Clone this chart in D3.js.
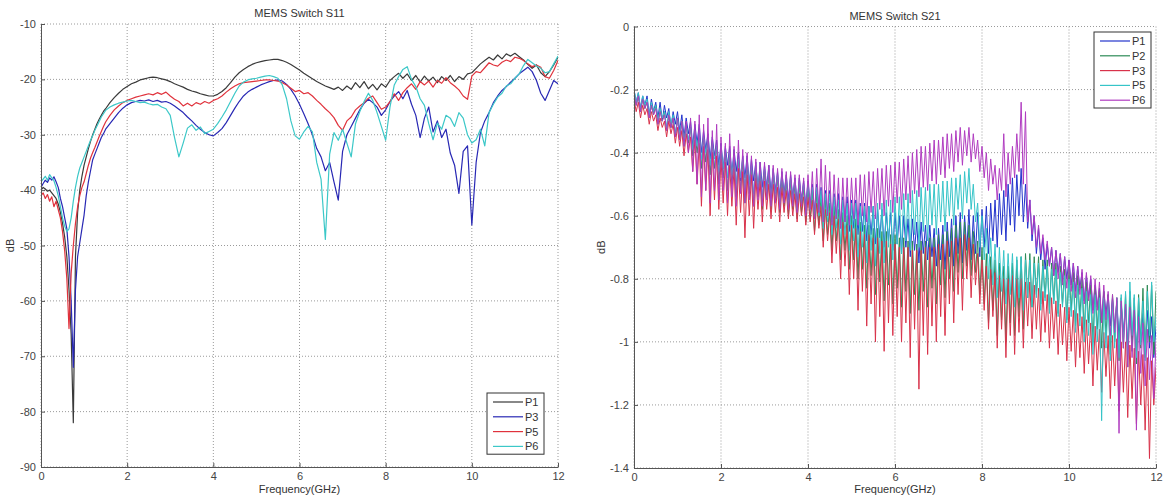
<!DOCTYPE html>
<html>
<head>
<meta charset="utf-8">
<script src="https://cdn.jsdelivr.net/npm/d3@7"></script>
<style>
body { margin: 0; background: #fff; }
text { font-family: "Liberation Sans", Arial, sans-serif; }
</style>
</head>
<body>
<script>
// sweep grids (GHz)
var freqS11 = d3.range(0, 1.5, 0.05).concat(d3.range(1.5, 12.001, 0.1));
var freqS21 = d3.range(0, 12.001, 0.05);

var xTicks = [0, 2, 4, 6, 8, 10, 12];
var yTicksS11 = [-10, -20, -30, -40, -50, -60, -70, -80, -90];
var yTicksS21 = [0, -0.2, -0.4, -0.6, -0.8, -1, -1.2, -1.4];

var namesS11 = ['P1', 'P3', 'P5', 'P6'];
var namesS21 = ['P1', 'P2', 'P3', 'P5', 'P6'];

// S11 (dB), first 30 points every 0.05 GHz up to 1.45, then every 0.1 GHz
var s11P1 = [-40, -39.5, -39.8, -40.2, -40, -40.5, -41, -41.5, -42.5, -44, -46, -48.5, -52, -58, -66, -82, -52, -44, -40, -37.5, -35.5, -34, -32.5, -31.2, -30, -29, -28, -27.2, -26.5, -25.8,
  -25.3, -24.2, -23.3, -22.5, -21.8,
  -21.3, -20.8, -20.5, -20.1, -19.9, -19.7, -19.6, -19.7, -19.9, -20.1,
  -20.4, -20.8, -21.1, -21.4, -21.8, -22.1, -22.3, -22.6, -22.8, -23.0,
  -23.0, -22.7, -22.2, -21.5, -20.6, -19.6, -18.8, -18.2, -17.7, -17.3,
  -17.0, -16.8, -16.6, -16.5, -16.4, -16.4, -16.6, -16.9, -17.3, -17.8,
  -18.3, -18.9, -19.4, -19.9, -20.4, -20.8, -21.2, -21.5, -21.8, -21.4,
  -22.0, -21.2, -21.8, -20.6, -21.5, -20.4, -21.7, -20.9, -21.9, -20.8,
  -21.4, -20.2, -19.5, -18.9, -19.8, -19.0, -20.2, -19.3, -20.5, -19.4,
  -20.3, -19.6, -20.6, -19.5, -20.2, -19.3, -20.4, -19.5, -20.0, -19.0,
  -18.8, -18.0, -17.2, -16.6, -16.0, -16.5, -15.6, -16.3, -15.4, -15.8,
  -15.3, -15.9, -16.5, -17.3, -18.0, -17.4, -18.8, -19.5, -18.6, -17.4,
  -16.0];
var s11P3 = [-39.5, -38.8, -38.2, -38.6, -37.8, -38.2, -37.6, -38.5, -39.5, -41.5, -43, -45, -47, -52, -60, -72, -58, -52, -49.5, -47, -44.5, -41, -38.5, -36.5, -34.5, -33.5, -32.5, -31.5, -30.5, -29.8,
  -29, -28, -27, -26, -25.2,
  -24.6, -24.2, -24.0, -23.8, -23.9, -23.7, -24.0, -23.8, -24.1, -24.0,
  -24.3, -24.8, -25.4, -26.0, -26.8, -27.5, -28.3, -29.0, -29.6, -30.0,
  -30.2, -29.6, -28.9, -27.8, -26.5, -25.2, -24.0, -23.0, -22.3, -21.8,
  -21.4, -21.0, -20.7, -20.4, -20.2, -20.1, -20.3, -20.9, -21.8, -23.0,
  -24.5, -26.2, -28.0, -30.0, -32.5, -34.0, -36.5, -35.0, -38.5, -41.8,
  -33.0, -30.0, -28.5, -27.0, -25.5, -24.3, -23.6, -24.2, -25.0, -26.5,
  -25.5, -24.0, -23.0, -22.2, -23.5, -22.0, -24.5, -26.5, -30.5, -27.0,
  -25.0, -29.5, -27.5, -30.5, -29.0, -33.3, -35.5, -40.6, -33.0, -32.0,
  -46.3, -35.0, -29.6, -27.5, -26.0, -24.2, -23.0, -22.0, -21.3, -20.5,
  -19.8, -19.0, -18.4, -17.8, -18.6, -20.2, -22.5, -23.8, -22.0, -20.2,
  -20.8];
var s11P5 = [-41, -40.5, -41.5, -40.8, -42, -41.2, -43, -42, -43.5, -45, -47.5, -51, -56, -65, -55, -50, -46, -43, -41, -39.5, -38.5, -37, -35.5, -34.2, -33.2, -32.3, -31.3, -30.3, -29.4, -28.5,
  -27.7, -26.5, -25.5, -24.8, -24.2,
  -23.8, -23.5, -23.2, -23.0, -22.8, -22.6, -22.8, -22.4, -22.7, -22.3,
  -23.0, -23.6, -24.0, -24.8, -24.3, -24.8, -24.2, -24.5, -24.0, -24.3,
  -23.8, -23.5, -23.0, -22.3, -21.7, -21.2, -20.8, -20.6, -20.5, -20.4,
  -20.3, -20.2, -20.1, -20.1, -20.2, -20.3, -20.6, -21.0, -21.6, -22.2,
  -22.0, -22.6, -22.4, -23.0, -23.8, -24.5, -25.3, -26.0, -26.9, -28.3,
  -29.2, -27.5, -26.8, -25.5, -24.8, -24.2, -23.4, -23.0, -24.2, -25.4,
  -25.0, -24.0, -22.6, -23.8, -22.4, -21.5, -20.8, -21.8, -20.4, -21.0,
  -20.3, -21.4, -20.2, -20.7, -19.7, -20.6, -21.2, -21.9, -23.0, -23.6,
  -19.4, -18.6, -18.8, -17.9, -17.0, -17.4, -17.6, -16.9, -16.5, -16.8,
  -16.0, -16.2, -16.6, -17.2, -17.7, -17.4, -17.8, -19.5, -19.8, -18.4,
  -16.6];
var s11P6 = [-38.5, -38, -37.5, -38.2, -37.2, -37.8, -38.3, -39.5, -41, -43, -45, -46.5, -47.5, -47, -45, -42, -39.5, -37.5, -36, -35, -34, -33, -32, -31, -30.2, -29.2, -28.4, -27.6, -26.8, -26.2,
  -25.6, -25.0, -24.6, -24.3, -24.1,
  -23.9, -23.8, -24.0, -24.2, -24.1, -24.4, -24.6, -24.5, -25.0, -25.3,
  -26.5, -30.5, -34.0, -31.5, -28.8, -28.2, -29.2, -28.6, -29.8, -29.4,
  -29.0, -28.0, -26.8, -25.5, -24.0, -22.5, -21.2, -20.5, -20.1, -19.9,
  -19.8, -19.6, -19.4, -19.3, -19.5, -19.8, -21.0, -23.5, -27.5, -30.2,
  -30.8, -29.5, -28.5, -29.5, -35.0, -38.0, -48.9, -33.5, -29.6, -31.0,
  -29.0, -31.5, -34.0, -28.0, -25.8, -24.0, -22.5, -23.8, -26.0, -28.5,
  -31.0, -25.0, -21.0, -19.5, -18.2, -17.7, -20.0, -21.3, -23.5, -24.7,
  -28.0, -30.9, -27.9, -29.0, -26.5, -27.0, -28.5, -26.0, -27.0, -30.0,
  -31.5, -30.9, -29.0, -32.0, -26.0, -24.5, -23.2, -22.5, -21.2, -20.8,
  -19.8, -19.0, -17.5, -16.4, -17.0, -17.6, -18.0, -18.8, -18.6, -17.2,
  -15.8];

// S21 (dB), every 0.05 GHz, one row per GHz
var s21P1 = [-0.20, -0.24, -0.21, -0.26, -0.22, -0.25, -0.22, -0.28, -0.23, -0.27, -0.24, -0.29, -0.24, -0.30, -0.25, -0.29, -0.26, -0.32, -0.27, -0.31,
  -0.27, -0.33, -0.28, -0.35, -0.29, -0.34, -0.30, -0.38, -0.31, -0.37, -0.31, -0.40, -0.33, -0.39, -0.34, -0.42, -0.35, -0.41, -0.36, -0.44,
  -0.37, -0.45, -0.38, -0.44, -0.38, -0.47, -0.39, -0.46, -0.40, -0.49, -0.41, -0.48, -0.41, -0.50, -0.42, -0.49, -0.43, -0.52, -0.43, -0.51,
  -0.44, -0.51, -0.44, -0.53, -0.45, -0.52, -0.46, -0.54, -0.46, -0.53, -0.47, -0.55, -0.47, -0.54, -0.48, -0.56, -0.48, -0.55, -0.49, -0.57,
  -0.49, -0.57, -0.50, -0.59, -0.50, -0.58, -0.51, -0.61, -0.52, -0.60, -0.52, -0.62, -0.53, -0.61, -0.53, -0.64, -0.54, -0.62, -0.54, -0.65,
  -0.55, -0.64, -0.55, -0.66, -0.56, -0.65, -0.56, -0.68, -0.57, -0.66, -0.57, -0.69, -0.58, -0.67, -0.58, -0.70, -0.59, -0.68, -0.59, -0.71,
  -0.59, -0.69, -0.60, -0.72, -0.60, -0.70, -0.61, -0.73, -0.61, -0.71, -0.62, -0.75, -0.62, -0.72, -0.63, -0.74, -0.63, -0.73, -0.64, -0.76,
  -0.64, -0.74, -0.63, -0.77, -0.62, -0.73, -0.61, -0.76, -0.60, -0.72, -0.59, -0.75, -0.60, -0.71, -0.58, -0.74, -0.60, -0.72, -0.59, -0.73,
  -0.58, -0.70, -0.57, -0.72, -0.56, -0.68, -0.55, -0.70, -0.53, -0.66, -0.52, -0.68, -0.50, -0.63, -0.48, -0.65, -0.47, -0.60, -0.45, -0.62,
  -0.50, -0.64, -0.55, -0.68, -0.60, -0.72, -0.64, -0.74, -0.67, -0.77, -0.69, -0.76, -0.70, -0.79, -0.71, -0.78, -0.72, -0.81, -0.73, -0.80,
  -0.74, -0.82, -0.75, -0.84, -0.76, -0.83, -0.78, -0.87, -0.79, -0.86, -0.80, -0.90, -0.82, -0.89, -0.83, -0.93, -0.84, -0.91, -0.85, -0.95,
  -0.86, -0.96, -0.87, -0.99, -0.88, -0.97, -0.88, -1.01, -0.89, -0.99, -0.90, -1.03, -0.90, -1.00, -0.91, -1.04, -0.90, -1.02, -0.92, -1.05,
  -0.95];
var s21P2 = [-0.21, -0.25, -0.22, -0.27, -0.23, -0.26, -0.24, -0.29, -0.25, -0.28, -0.25, -0.31, -0.26, -0.30, -0.27, -0.33, -0.28, -0.32, -0.29, -0.35,
  -0.29, -0.36, -0.30, -0.38, -0.31, -0.37, -0.32, -0.41, -0.33, -0.40, -0.34, -0.45, -0.35, -0.43, -0.36, -0.47, -0.37, -0.45, -0.38, -0.50,
  -0.39, -0.48, -0.40, -0.52, -0.41, -0.50, -0.42, -0.54, -0.42, -0.52, -0.43, -0.56, -0.44, -0.53, -0.45, -0.57, -0.45, -0.54, -0.46, -0.58,
  -0.46, -0.55, -0.47, -0.58, -0.47, -0.56, -0.48, -0.59, -0.48, -0.57, -0.49, -0.60, -0.49, -0.58, -0.50, -0.61, -0.50, -0.59, -0.51, -0.62,
  -0.51, -0.61, -0.52, -0.65, -0.53, -0.63, -0.54, -0.68, -0.55, -0.66, -0.56, -0.71, -0.57, -0.68, -0.58, -0.74, -0.59, -0.71, -0.60, -0.77,
  -0.60, -0.74, -0.61, -0.80, -0.62, -0.77, -0.63, -0.83, -0.63, -0.79, -0.64, -0.85, -0.64, -0.81, -0.65, -0.87, -0.65, -0.82, -0.66, -0.88,
  -0.66, -0.83, -0.67, -0.89, -0.67, -0.84, -0.68, -0.91, -0.68, -0.85, -0.69, -0.90, -0.68, -0.84, -0.68, -0.89, -0.67, -0.83, -0.67, -0.88,
  -0.66, -0.82, -0.66, -0.86, -0.65, -0.80, -0.64, -0.84, -0.63, -0.78, -0.62, -0.80, -0.62, -0.76, -0.63, -0.79, -0.65, -0.78, -0.68, -0.85,
  -0.70, -0.88, -0.72, -0.94, -0.73, -0.90, -0.74, -0.98, -0.75, -0.93, -0.76, -1.00, -0.76, -0.94, -0.75, -0.98, -0.74, -0.92, -0.73, -0.96,
  -0.72, -0.86, -0.72, -0.89, -0.73, -0.85, -0.73, -0.88, -0.74, -0.86, -0.74, -0.90, -0.75, -0.87, -0.75, -0.91, -0.76, -0.88, -0.77, -0.93,
  -0.77, -0.90, -0.78, -0.95, -0.79, -0.92, -0.80, -0.97, -0.81, -0.94, -0.82, -1.00, -0.83, -0.96, -0.84, -1.02, -0.84, -0.98, -0.85, -1.04,
  -0.85, -1.00, -0.86, -1.06, -0.86, -1.02, -0.85, -1.08, -0.84, -1.03, -0.86, -1.07, -0.85, -1.02, -0.83, -1.05, -0.82, -1.00, -0.82, -1.04,
  -0.84];
var s21P3 = [-0.23, -0.27, -0.24, -0.29, -0.25, -0.28, -0.26, -0.31, -0.27, -0.30, -0.28, -0.33, -0.29, -0.32, -0.30, -0.35, -0.30, -0.34, -0.31, -0.37,
  -0.32, -0.38, -0.33, -0.41, -0.34, -0.40, -0.35, -0.46, -0.36, -0.50, -0.37, -0.57, -0.38, -0.52, -0.39, -0.60, -0.40, -0.55, -0.41, -0.58,
  -0.42, -0.56, -0.43, -0.60, -0.44, -0.57, -0.45, -0.63, -0.45, -0.59, -0.46, -0.67, -0.47, -0.60, -0.47, -0.64, -0.48, -0.58, -0.49, -0.62,
  -0.49, -0.58, -0.50, -0.61, -0.50, -0.59, -0.51, -0.62, -0.51, -0.59, -0.52, -0.61, -0.52, -0.60, -0.53, -0.62, -0.53, -0.60, -0.54, -0.63,
  -0.54, -0.62, -0.55, -0.66, -0.56, -0.64, -0.57, -0.70, -0.58, -0.68, -0.59, -0.75, -0.60, -0.72, -0.61, -0.80, -0.62, -0.76, -0.63, -0.85,
  -0.63, -0.80, -0.64, -0.90, -0.65, -0.84, -0.66, -0.95, -0.66, -0.88, -0.67, -1.00, -0.67, -0.92, -0.68, -1.03, -0.68, -0.94, -0.69, -0.98,
  -0.69, -0.92, -0.70, -1.00, -0.70, -0.94, -0.70, -1.05, -0.71, -0.96, -0.71, -1.15, -0.71, -0.98, -0.70, -1.04, -0.70, -0.95, -0.70, -1.00,
  -0.69, -0.92, -0.69, -0.98, -0.68, -0.88, -0.68, -0.94, -0.67, -0.85, -0.67, -0.90, -0.66, -0.80, -0.67, -0.86, -0.69, -0.82, -0.72, -0.88,
  -0.74, -0.90, -0.76, -0.96, -0.77, -0.92, -0.78, -1.02, -0.79, -0.96, -0.80, -1.05, -0.80, -0.98, -0.79, -1.04, -0.80, -0.97, -0.80, -1.02,
  -0.81, -0.95, -0.81, -0.99, -0.82, -0.96, -0.83, -1.00, -0.84, -0.97, -0.85, -1.02, -0.86, -0.99, -0.87, -1.04, -0.88, -1.01, -0.89, -1.06,
  -0.89, -1.03, -0.90, -1.08, -0.91, -1.05, -0.92, -1.10, -0.93, -1.07, -0.94, -1.14, -0.95, -1.09, -0.96, -1.16, -0.97, -1.11, -0.98, -1.18,
  -0.98, -1.14, -0.99, -1.22, -1.00, -1.16, -1.00, -1.24, -1.01, -1.18, -1.02, -1.26, -1.03, -1.20, -1.04, -1.28, -1.05, -1.37, -1.06, -1.20,
  -1.08];
var s21P5 = [-0.20, -0.24, -0.21, -0.26, -0.22, -0.25, -0.23, -0.28, -0.24, -0.27, -0.25, -0.30, -0.26, -0.29, -0.27, -0.32, -0.27, -0.31, -0.28, -0.34,
  -0.29, -0.34, -0.30, -0.37, -0.31, -0.36, -0.32, -0.39, -0.33, -0.38, -0.34, -0.42, -0.35, -0.40, -0.36, -0.44, -0.37, -0.42, -0.38, -0.46,
  -0.38, -0.45, -0.39, -0.48, -0.40, -0.47, -0.41, -0.50, -0.42, -0.48, -0.42, -0.51, -0.43, -0.50, -0.44, -0.53, -0.44, -0.51, -0.45, -0.54,
  -0.45, -0.52, -0.46, -0.55, -0.46, -0.53, -0.47, -0.56, -0.47, -0.54, -0.48, -0.57, -0.48, -0.55, -0.49, -0.58, -0.49, -0.56, -0.50, -0.59,
  -0.50, -0.58, -0.51, -0.61, -0.51, -0.60, -0.52, -0.64, -0.53, -0.62, -0.53, -0.66, -0.54, -0.64, -0.55, -0.69, -0.55, -0.66, -0.56, -0.71,
  -0.56, -0.68, -0.56, -0.73, -0.57, -0.70, -0.57, -0.75, -0.57, -0.71, -0.57, -0.76, -0.56, -0.72, -0.56, -0.75, -0.55, -0.70, -0.55, -0.74,
  -0.54, -0.69, -0.54, -0.72, -0.53, -0.68, -0.53, -0.71, -0.52, -0.66, -0.52, -0.70, -0.51, -0.65, -0.51, -0.68, -0.50, -0.63, -0.50, -0.66,
  -0.50, -0.62, -0.49, -0.65, -0.49, -0.60, -0.48, -0.63, -0.48, -0.58, -0.47, -0.61, -0.46, -0.56, -0.45, -0.58, -0.50, -0.62, -0.56, -0.70,
  -0.60, -0.74, -0.64, -0.80, -0.67, -0.82, -0.69, -0.86, -0.70, -0.84, -0.71, -0.88, -0.72, -0.85, -0.72, -0.89, -0.73, -0.86, -0.73, -0.90,
  -0.74, -0.86, -0.74, -0.89, -0.75, -0.86, -0.75, -0.90, -0.76, -0.87, -0.76, -0.91, -0.77, -0.88, -0.77, -0.92, -0.78, -0.89, -0.79, -0.94,
  -0.80, -0.92, -0.81, -0.97, -0.82, -0.95, -0.83, -1.00, -0.84, -0.98, -0.85, -1.04, -0.85, -1.00, -0.86, -1.25, -0.86, -1.02, -0.87, -1.06,
  -0.87, -1.02, -0.86, -1.05, -0.85, -1.00, -0.84, -1.04, -0.81, -0.98, -0.85, -1.05, -0.86, -1.01, -0.87, -1.06, -0.84, -0.98, -0.81, -1.00,
  -0.92];
var s21P6 = [-0.21, -0.25, -0.22, -0.27, -0.23, -0.26, -0.24, -0.29, -0.25, -0.28, -0.26, -0.31, -0.27, -0.30, -0.28, -0.33, -0.28, -0.32, -0.29, -0.35,
  -0.29, -0.36, -0.30, -0.38, -0.30, -0.40, -0.29, -0.46, -0.30, -0.50, -0.28, -0.54, -0.31, -0.52, -0.29, -0.56, -0.33, -0.52, -0.31, -0.55,
  -0.35, -0.52, -0.37, -0.56, -0.34, -0.54, -0.38, -0.57, -0.36, -0.53, -0.39, -0.56, -0.40, -0.55, -0.41, -0.57, -0.42, -0.55, -0.43, -0.57,
  -0.43, -0.55, -0.44, -0.57, -0.44, -0.56, -0.45, -0.58, -0.45, -0.56, -0.46, -0.58, -0.46, -0.57, -0.47, -0.59, -0.47, -0.57, -0.48, -0.60,
  -0.47, -0.58, -0.46, -0.61, -0.45, -0.59, -0.42, -0.62, -0.44, -0.60, -0.46, -0.63, -0.47, -0.61, -0.48, -0.64, -0.48, -0.62, -0.48, -0.63,
  -0.48, -0.61, -0.48, -0.63, -0.47, -0.60, -0.47, -0.62, -0.46, -0.59, -0.46, -0.61, -0.45, -0.58, -0.45, -0.60, -0.44, -0.57, -0.44, -0.59,
  -0.43, -0.56, -0.43, -0.58, -0.42, -0.55, -0.41, -0.56, -0.40, -0.53, -0.39, -0.54, -0.38, -0.51, -0.38, -0.52, -0.37, -0.49, -0.36, -0.50,
  -0.36, -0.47, -0.35, -0.48, -0.34, -0.45, -0.34, -0.46, -0.33, -0.43, -0.32, -0.44, -0.33, -0.41, -0.32, -0.43, -0.34, -0.42, -0.36, -0.46,
  -0.38, -0.48, -0.40, -0.52, -0.42, -0.50, -0.44, -0.55, -0.45, -0.52, -0.34, -0.54, -0.40, -0.50, -0.38, -0.48, -0.34, -0.46, -0.24, -0.50,
  -0.27, -0.62, -0.55, -0.66, -0.60, -0.70, -0.63, -0.72, -0.66, -0.74, -0.68, -0.76, -0.70, -0.79, -0.71, -0.80, -0.72, -0.82, -0.73, -0.83,
  -0.74, -0.84, -0.75, -0.86, -0.76, -0.85, -0.77, -0.88, -0.78, -0.87, -0.79, -0.91, -0.80, -0.90, -0.81, -0.94, -0.82, -0.93, -0.84, -0.98,
  -0.85, -0.97, -0.86, -1.29, -0.87, -1.02, -0.88, -1.08, -0.89, -1.05, -0.90, -1.28, -0.92, -1.10, -0.94, -1.14, -0.96, -1.12, -0.98, -1.18,
  -1.00];

var colorsS11 = ['#3a3a3a', '#2828b4', '#e0323c', '#3cc8c8'];
var colorsS21 = ['#2233cc', '#2e8b57', '#d8324a', '#36c4c8', '#b03cc0'];

var width = 1163, height = 500, svg;

function init() {
    svg = d3.select('body')
        .append('svg')
        .attr('width', width)
        .attr('height', height)
        .style('background', '#fff');
}

function panel(p) {
    var x = d3.scaleLinear().domain([0, 12]).range([p.left, p.right]),
        y = d3.scaleLinear().domain([p.yTicks[p.yTicks.length - 1], p.yTicks[0]]).range([p.bottom, p.top]),
        g = svg.append('g');

    // dotted grid
    g.selectAll('line.gx').data(xTicks).enter().append('line')
        .attr('x1', d => x(d)).attr('x2', d => x(d))
        .attr('y1', p.top).attr('y2', p.bottom)
        .attr('stroke', '#9a9a9a').attr('stroke-dasharray', '1,2');
    g.selectAll('line.gy').data(p.yTicks).enter().append('line')
        .attr('y1', d => y(d)).attr('y2', d => y(d))
        .attr('x1', p.left).attr('x2', p.right)
        .attr('stroke', '#9a9a9a').attr('stroke-dasharray', '1,2');

    svg.append('clipPath').attr('id', p.id + 'clip')
        .append('rect').attr('x', p.left).attr('y', p.top)
        .attr('width', p.right - p.left).attr('height', p.bottom - p.top);

    var line = d3.line()
        .x(d => x(d[0]))
        .y(d => y(d[1]));

    g.append('g').attr('clip-path', 'url(#' + p.id + 'clip)')
        .selectAll('path.line')
        .data(p.series)
        .enter()
        .append('path')
        .attr('class', 'line')
        .attr('fill', 'none')
        .attr('stroke', (d, i) => p.colors[i])
        .attr('stroke-width', p.lw)
        .attr('stroke-linejoin', 'round')
        .attr('d', d => line(d.map((v, i) => [p.freq[i], v])));

    var ax = g.append('g')
        .attr('transform', 'translate(0,' + p.bottom + ')')
        .call(d3.axisBottom(x).tickValues(xTicks).tickSizeInner(-4).tickSizeOuter(0).tickPadding(5).tickFormat(d => String(d)));
    var ay = g.append('g')
        .attr('transform', 'translate(' + p.left + ',0)')
        .call(d3.axisLeft(y).tickValues(p.yTicks).tickSizeInner(-4).tickSizeOuter(0).tickPadding(5).tickFormat(d => String(d)));
    [ax, ay].forEach(function (a) {
        a.select('.domain').attr('stroke', '#555');
        a.selectAll('.tick line').attr('stroke', '#555');
        a.selectAll('text').attr('fill', '#444').style('font-size', '11px')
            .style('font-family', '"Liberation Sans", Arial, sans-serif');
    });

    var cx = (p.left + p.right) / 2;
    g.append('text').attr('x', cx).attr('y', p.top - 7).attr('text-anchor', 'middle')
        .attr('fill', '#333').style('font-size', '11px').text(p.title);
    g.append('text').attr('x', cx).attr('y', 493).attr('text-anchor', 'middle')
        .attr('fill', '#333').style('font-size', '11px').text('Frequency(GHz)');
    g.append('text').attr('transform', 'translate(' + p.ylabX + ',' + ((p.top + p.bottom) / 2) + ') rotate(-90)')
        .attr('text-anchor', 'middle').attr('fill', '#333').style('font-size', '11px').text('dB');

    // legend
    var lg = g.append('g').attr('transform', 'translate(' + p.legX + ',' + p.legY + ')');
    lg.append('rect').attr('width', 57).attr('height', p.names.length * 14.8 + 2)
        .attr('fill', '#fff').attr('stroke', '#333');
    p.names.forEach(function (n, i) {
        var yy = 9 + i * 14.8;
        lg.append('line').attr('x1', 6).attr('x2', 36).attr('y1', yy).attr('y2', yy)
            .attr('stroke', p.colors[i]).attr('stroke-width', 1.2);
        lg.append('text').attr('x', 38).attr('y', yy + 4).attr('fill', '#333')
            .style('font-size', '11px').text(n);
    });
}

init();
panel({
    id: 's11', left: 41, right: 558, top: 24, bottom: 467,
    yTicks: yTicksS11, freq: freqS11, series: [s11P1, s11P3, s11P5, s11P6],
    colors: colorsS11, names: namesS11, lw: 1.2,
    title: 'MEMS Switch S11', ylabX: 14, legX: 487, legY: 393
});
panel({
    id: 's21', left: 634, right: 1156, top: 26.5, bottom: 468,
    yTicks: yTicksS21, freq: freqS21, series: [s21P1, s21P2, s21P3, s21P5, s21P6],
    colors: colorsS21, names: namesS21, lw: 1,
    title: 'MEMS Switch S21', ylabX: 605, legX: 1094, legY: 32
});
</script>
</body>
</html>
